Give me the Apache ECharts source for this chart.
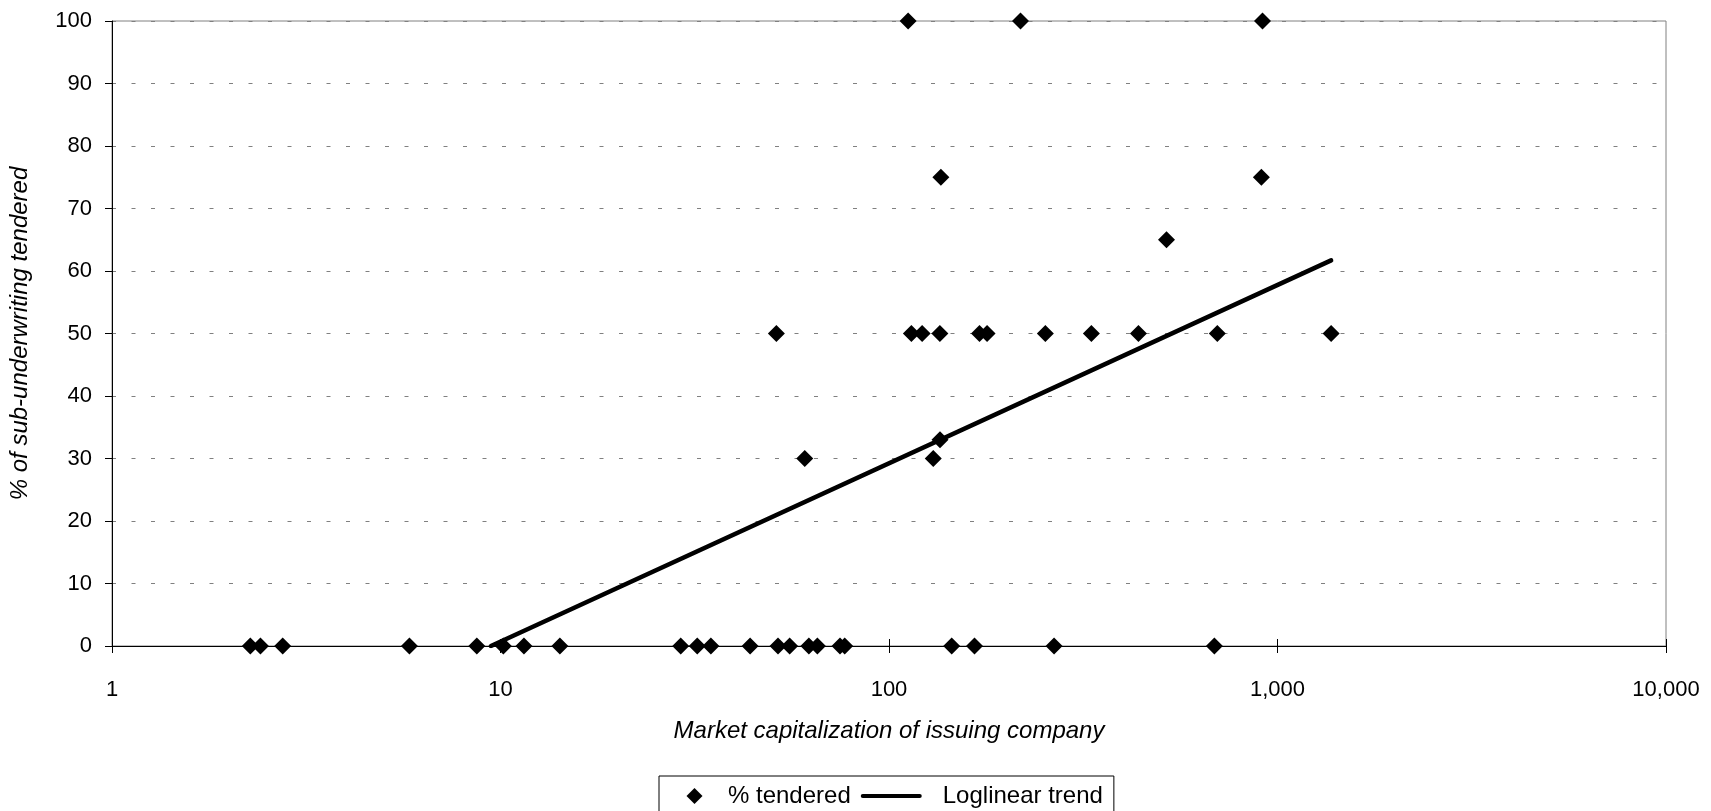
<!DOCTYPE html>
<html>
<head>
<meta charset="utf-8">
<script src="https://cdn.jsdelivr.net/npm/echarts@6/dist/echarts.min.js"></script>
<style>
html,body{margin:0;padding:0;background:#fff;}
#chart{width:1711px;height:811px;}
</style>
</head>
<body>
<div id="chart"></div>
<script>
// ---- data ----
const marketCap = [
  2.27, 2.41, 2.75, 5.83, 8.69, 10.17, 11.49, 14.22, 29.1, 32.1, 34.8, 43.9,
  51.8, 55.5, 62.2, 65.4, 74.8, 76.9, 145, 166, 266, 688,
  51.3, 114.2, 121.7, 135.2, 171, 178.8, 252.6, 331.8, 438.6, 700, 1374,
  112, 218, 915,
  136, 909,
  518,
  135.3,
  60.7, 130
];
const tendered = [
  0, 0, 0, 0, 0, 0, 0, 0, 0, 0, 0, 0,
  0, 0, 0, 0, 0, 0, 0, 0, 0, 0,
  50, 50, 50, 50, 50, 50, 50, 50, 50, 50, 50,
  100, 100, 100,
  75, 75,
  65,
  33,
  30, 30
];
const trendCap = [9.45, 1374];
const trendValue = [0, 61.7];
const xTickLabels = ['1', '10', '100', '1,000', '10,000'];
const seriesNames = ['% tendered', 'Loglinear trend'];
const xAxisName = 'Market capitalization of issuing company';
const yAxisName = '% of sub-underwriting tendered';

// ---- chart ----
const FONT = '"Liberation Sans", Arial, sans-serif';
const chart = echarts.init(document.getElementById('chart'));
const scatterData = marketCap.map((v, i) => [v, tendered[i]]);
const trendData = trendCap.map((v, i) => [v, trendValue[i]]);
// legend icon: a 16px diamond centred in a 57x16 box (degenerate corner sub-paths fix the box)
const legendDiamond = 'path://M0,0L0,0Z M57,16L57,16Z M28.5,0L36.5,8L28.5,16L20.5,8Z';

chart.setOption({
  animation: false,
  backgroundColor: '#fff',
  textStyle: { fontFamily: FONT, color: '#000' },
  grid: {
    left: 110, right: 45, top: 21, bottom: 165,
    show: true, borderColor: '#808080', borderWidth: 1, containLabel: false
  },
  legend: {
    left: 659, top: 776, orient: 'horizontal',
    itemWidth: 57, itemHeight: 16, itemGap: 10,
    padding: [8, 11, 8, 7],
    borderColor: '#000', borderWidth: 1,
    symbolKeepAspect: false,
    textStyle: { fontSize: 24, color: '#000', fontFamily: FONT, lineHeight: 24 },
    data: [
      { name: seriesNames[0], icon: legendDiamond, itemStyle: { color: '#000', opacity: 1, borderWidth: 0 } },
      {
        name: seriesNames[1],
        itemStyle: { opacity: 0 },
        lineStyle: { color: '#000', width: 4, opacity: 1 },
        textStyle: { padding: [0, 0, 0, 18] }
      }
    ]
  },
  xAxis: [
    {
      type: 'log', logBase: 10, min: 1, max: 10000,
      name: xAxisName, nameLocation: 'middle', nameGap: 73,
      nameTextStyle: { fontSize: 24, fontStyle: 'italic', color: '#000', fontFamily: FONT },
      axisLine: { show: true, onZero: false, lineStyle: { color: '#000', width: 1 } },
      axisTick: { show: true, length: 7, lineStyle: { color: '#000', width: 1 } },
      axisLabel: {
        fontSize: 22, color: '#000', fontFamily: FONT, margin: 33,
        formatter: v => xTickLabels[Math.round(Math.log10(v))]
      },
      splitLine: { show: false },
      minorTick: { show: false }
    },
    {
      type: 'log', logBase: 10, min: 1, max: 10000, position: 'bottom',
      axisLine: { show: false },
      axisTick: { show: true, inside: true, length: 7, lineStyle: { color: '#000', width: 1 } },
      axisLabel: { show: false },
      splitLine: { show: false }
    }
  ],
  yAxis: {
    type: 'value', min: 0, max: 100, interval: 10,
    name: yAxisName, nameLocation: 'middle', nameGap: 80, nameRotate: 90,
    nameTextStyle: { fontSize: 24, fontStyle: 'italic', color: '#000', fontFamily: FONT },
    axisLine: { show: true, onZero: false, lineStyle: { color: '#000', width: 1 } },
    axisTick: { show: true, length: 7, lineStyle: { color: '#000', width: 1 } },
    axisLabel: { fontSize: 22, color: '#000', fontFamily: FONT, margin: 20 },
    splitLine: { show: true, lineStyle: { color: '#808080', width: 1, type: [4, 15.5] } }
  },
  series: [
    {
      name: seriesNames[0], type: 'scatter', xAxisIndex: 0,
      data: scatterData, symbol: 'diamond', symbolSize: 17,
      itemStyle: { color: '#000', opacity: 1 }, clip: false, z: 3
    },
    {
      name: seriesNames[1], type: 'line', xAxisIndex: 0,
      data: trendData, symbol: 'none', showSymbol: false,
      lineStyle: { color: '#000', width: 4.5, cap: 'round' },
      itemStyle: { color: '#000' }, z: 4
    }
  ]
});
</script>
</body>
</html>
